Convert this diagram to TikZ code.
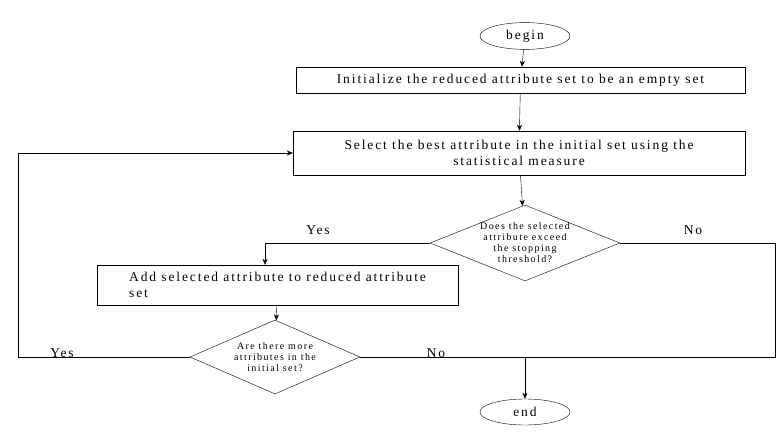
\documentclass[tikz,border=0pt]{standalone}
\usepackage{fontspec}
\setmainfont{Liberation Serif}[LetterSpace=14]
\usetikzlibrary{shapes.geometric,arrows.meta}
\begin{document}
\begin{tikzpicture}[x=1pt,y=-1pt,
  boxst/.style={draw,minimum height=#1,inner sep=2pt,align=center,font=\fontsize{13.5}{16}\selectfont},
  dia/.style={draw,diamond,aspect=2.5,inner sep=0pt,align=center,font=\fontsize{10}{11}\selectfont},
  ell/.style={draw,ellipse,minimum width=90,minimum height=26,font=\fontsize{13.5}{16}\selectfont},
  arr/.style={-{Stealth[length=6pt,width=5pt]}},
  lbl/.style={font=\fontsize{13.5}{16}\selectfont}]
\useasboundingbox (0,0) rectangle (784,441);
\node[ell] (begin) at (525,36) {begin};
\node[boxst=26,minimum width=449] (b1) at (520.5,80) {Initialize the reduced attribute set to be an empty set};
\node[boxst=44,minimum width=452] (b2) at (519,153) {Select the best attribute in the initial set using the\\statistical measure};
\node[dia,minimum width=183,minimum height=70] (d1) at (525,243) {Does the selected\\attribute exceed\\the stopping\\threshold?};
\node[boxst=40,minimum width=361,align=left] (b3) at (277.5,285) {Add selected attribute to reduced attribute\\set};
\node[dia,minimum width=170,minimum height=74] (d2) at (275,357) {Are there more\\attributes in the\\initial set?};
\node[ell] (end) at (525,412) {end};
\coordinate (j) at (525,357);
\draw[arr] (begin) -- (b1);
\draw[arr] (b1) -- (b2);
\draw[arr] (b2) -- (d1);
\draw[arr] (d1.west) -| (b3.north -| 265,0);
\draw[arr] (b3) -- (d2);
\draw[arr] (d2.west) -- (18,357) -- (18,153) -- (b2.west);
\draw (d1.east) -- (775,243) -- (775,357) -- (d2.east);
\draw[arr] (j) -- (end);
\node[lbl] at (318,230) {Yes};
\node[lbl] at (693,230) {No};
\node[lbl] at (62,353) {Yes};
\node[lbl] at (436,353) {No};
\end{tikzpicture}
\end{document}
